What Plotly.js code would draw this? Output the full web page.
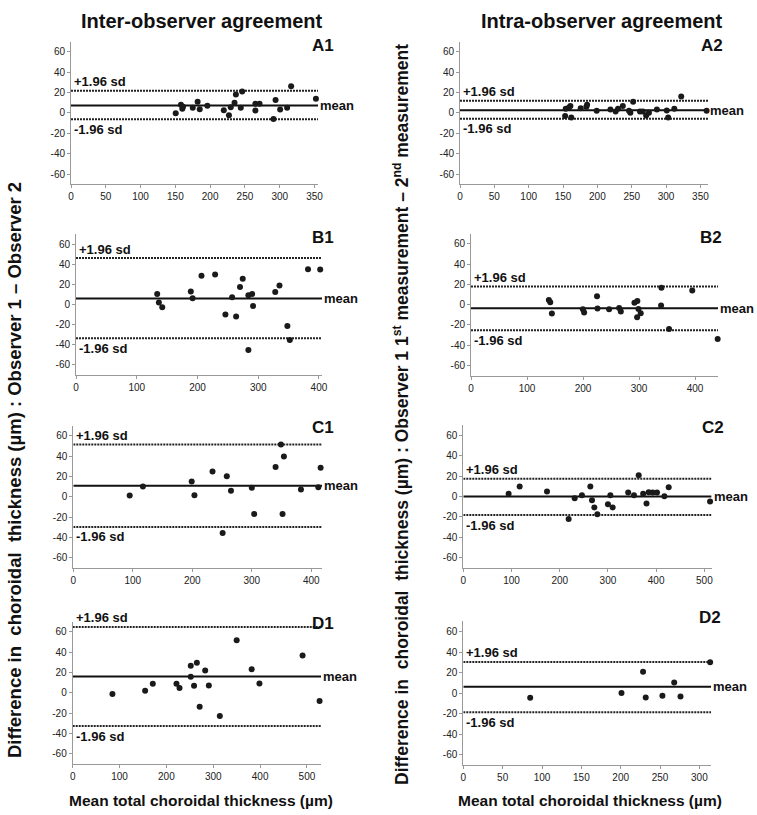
<!DOCTYPE html>
<html>
<head>
<meta charset="utf-8">
<script src="https://cdn.plot.ly/plotly-3.0.1.min.js"></script>
<style>html,body{margin:0;padding:0;background:#fff;}#chart{width:757px;height:815px;}</style>
</head>
<body>
<div id="chart"></div>
<script>
// ---- Data ----
const panelNames = ["A1", "A2", "B1", "B2", "C1", "C2", "D1", "D2"];

const A1x = [150.5, 158, 160, 161, 175, 182, 185, 196, 219.6, 227, 229.6, 235, 237, 246, 244, 265, 265, 271, 291, 294, 300.6, 310.6, 316.4, 352];
const A1y = [-0.3, 8, 4, 6, 5, 11, 3.6, 7, 2.6, -2.3, 5.6, 10, 18, 21, 5, 2.3, 9, 9, -6, 12.5, 3.3, 5, 26, 13.8];

const A2x = [153, 153.9, 158.7, 160.7, 162, 175.7, 184, 185, 199, 219, 226.5, 230, 237, 246, 248, 252, 262, 266, 271, 275, 286.6, 301, 303, 312, 322, 359];
const A2y = [-3, 3.9, 5.2, 6.6, -4.6, 4.6, 5.9, 7.9, 2, 3.3, 1.3, 3.9, 6.6, 2, 0, 11, 1.3, 1.3, -2.6, 0, 3.3, 2.3, -4.6, 3.9, 16, 2];

const B1x = [133.7, 136.4, 142, 189, 192, 206.6, 229, 246, 257, 263.6, 270, 274.5, 283.8, 283.8, 290, 291.5, 328, 335, 348, 352, 382, 402];
const B1y = [10.3, 1.7, -3, 12.7, 6, 28.3, 29.7, -10.3, 7, -12.3, 17.3, 25.3, 9, -45.7, 10.3, -1.7, 12.3, 18.7, -21.7, -35.7, 35, 34.7];

const B2x = [139, 141.5, 144.4, 199.7, 202, 225, 225.8, 246.6, 264.5, 267.5, 291.8, 297, 296.6, 299, 303, 339.4, 340, 353.6, 395, 440.4];
const B2y = [4.6, 2.3, -8.9, -4.6, -7.9, 8.3, -4, -4.6, -3.3, -6.9, 1.7, 3.6, -12.5, -4.3, -8.6, -1, 16.5, -24, 13.9, -34];

const C1x = [94.8, 117, 199, 203.6, 234, 251, 258, 265, 300, 304, 340, 349, 351.7, 354, 382.6, 411.8, 415.7];
const C1y = [1.3, 10.2, 15.1, 1.6, 25, -35.5, 20.4, 5.9, 8.9, -16.8, 29.3, 51.6, -16.8, 39.8, 7.2, 9.5, 28.6];

const C2x = [94, 116.9, 173.6, 218.5, 231, 246, 263.5, 266.9, 271.8, 278, 300, 305, 309.8, 342, 354, 363.8, 373, 380, 384.5, 392.8, 401.8, 417, 426, 511.8];
const C2y = [2.6, 9.8, 4.9, -22, -1.6, 1.3, 9.8, -3.6, -10.7, -17.3, -7.5, 1.3, -10.7, 3.9, 1.3, 20.8, 2.6, -6.8, 4.2, 3.9, 3.9, 0.3, 9.1, -4.9];

const D1x = [84.8, 154.6, 171, 221.5, 228, 252, 252, 259, 265, 271, 282.8, 290.6, 314, 350, 382, 398.6, 490.7, 527];
const D1y = [-1.3, 2, 8.8, 8.8, 4.6, 26.5, 15.7, 6.9, 29.4, -13.7, 21.9, 7.2, -22.9, 51.7, 23.2, 9.2, 36.6, -8.2];

const D2x = [85, 201, 228.4, 231.8, 253, 268, 276, 313.6];
const D2y = [-4.5, 0.3, 21, -4.2, -2.6, 10.4, -3.2, 30.2];

// Bland-Altman statistics per panel (order of panelNames)
const meanDiff = [7.2, 2.6, 5.7, -3.6, 10.9, 0, 16, 6.2];
const upperLoA = [21.6, 11.8, 46, 17.8, 51.6, 17.3, 64.7, 30.5];
const lowerLoA = [-6.2, -5.9, -34, -25.4, -29.6, -18.2, -32.7, -18.5];

// Axis extents and ticks
const xMax = [355, 361, 405, 441, 418, 515, 530, 315];
const xDtick = [50, 50, 100, 100, 100, 100, 100, 50];
const yTicks = [-60, -40, -20, 0, 20, 40, 60];

const columnTitles = ["Inter-observer agreement", "Intra-observer agreement"];
const xTitle = "Mean total choroidal thickness (µm)";
const yTitleLeft = "Difference in\u00a0 choroidal\u00a0 thickness (µm) : Observer 1 – Observer 2";
const yTitleRight = "Difference in\u00a0 choroidal\u00a0 thickness (µm) : Observer 1 1<sup>st</sup> measurement – 2<sup>nd</sup> measurement";

const xs = [A1x, A2x, B1x, B2x, C1x, C2x, D1x, D2x];
const ys = [A1y, A2y, B1y, B2y, C1y, C2y, D1y, D2y];

// ---- Layout geometry (pixels) ----
const W = 757, H = 815;
const boxes = [
  [71, 318, 41.5, 184.2],
  [460, 708, 41.5, 184.2],
  [76, 322, 234, 374.5],
  [471, 718, 233.6, 375.5],
  [73.3, 322, 425.8, 567.9],
  [463.3, 711.6, 425, 568],
  [72.7, 321, 621.5, 764],
  [463.3, 711.2, 621.4, 765]
];
const labelPos = [[323, 45], [712, 45], [323, 238], [711, 238], [323, 427], [713, 427], [323, 623], [710, 617]];

const FONT = "Liberation Sans, Arial, Helvetica, sans-serif";
const px = v => v / W;
const py = v => 1 - v / H;

const traces = [];
const layout = {
  width: W, height: H,
  margin: {l: 0, r: 0, t: 0, b: 0},
  paper_bgcolor: "#fff", plot_bgcolor: "#fff",
  showlegend: false,
  font: {family: FONT, color: "#111"},
  annotations: []
};

const dotted = "2px,1px";

for (let i = 0; i < 8; i++) {
  const n = i + 1;
  const xa = "x" + (n === 1 ? "" : n), ya = "y" + (n === 1 ? "" : n);
  const xk = "xaxis" + (n === 1 ? "" : n), yk = "yaxis" + (n === 1 ? "" : n);
  const b = boxes[i];
  const lineX = [0, xMax[i]];

  traces.push({x: lineX, y: [upperLoA[i], upperLoA[i]], xaxis: xa, yaxis: ya, mode: "lines",
    line: {color: "#222", width: 2, dash: dotted}, hoverinfo: "skip"});
  traces.push({x: lineX, y: [lowerLoA[i], lowerLoA[i]], xaxis: xa, yaxis: ya, mode: "lines",
    line: {color: "#222", width: 2, dash: dotted}, hoverinfo: "skip"});
  traces.push({x: lineX, y: [meanDiff[i], meanDiff[i]], xaxis: xa, yaxis: ya, mode: "lines",
    line: {color: "#111", width: 2}, hoverinfo: "skip"});
  traces.push({x: xs[i], y: ys[i], xaxis: xa, yaxis: ya, mode: "markers",
    marker: {color: "#1a1a1a", size: 6}, cliponaxis: false});

  const common = {showline: true, linecolor: "#999", linewidth: 1, ticks: "outside", ticklen: 3,
    tickcolor: "#999", tickwidth: 1, showgrid: false, zeroline: false,
    tickfont: {family: FONT, size: 10, color: "#222"}};
  layout[xk] = Object.assign({}, common, {domain: [px(b[0]), px(b[1])], range: [0, xMax[i]],
    anchor: ya, tickmode: "linear", tick0: 0, dtick: xDtick[i]});
  layout[yk] = Object.assign({}, common, {domain: [py(b[3]), py(b[2])], range: [-70, 70],
    anchor: xa, tickmode: "array", tickvals: yTicks, ticktext: yTicks.map(String)});

  // Panel label
  layout.annotations.push({text: "<b>" + panelNames[i] + "</b>", xref: "paper", yref: "paper",
    x: px(labelPos[i][0]), y: py(labelPos[i][1]), xanchor: "center", yanchor: "middle",
    showarrow: false, font: {family: FONT, size: 17, color: "#111"}});
  // LoA and mean labels
  layout.annotations.push({text: "<b>+1.96 sd</b>", xref: xa, yref: ya, x: 0, y: upperLoA[i],
    xanchor: "left", yanchor: "middle", xshift: 1, yshift: 9, showarrow: false,
    font: {family: FONT, size: 13, color: "#111"}});
  layout.annotations.push({text: "<b>-1.96 sd</b>", xref: xa, yref: ya, x: 0, y: lowerLoA[i],
    xanchor: "left", yanchor: "middle", xshift: 1, yshift: -10, showarrow: false,
    font: {family: FONT, size: 13, color: "#111"}});
  layout.annotations.push({text: "<b>mean</b>", xref: xa, yref: ya, x: xMax[i], y: meanDiff[i],
    xanchor: "left", yanchor: "middle", xshift: 0, showarrow: false,
    font: {family: FONT, size: 13, color: "#111"}});
}

// Column titles
layout.annotations.push({text: "<b>" + columnTitles[0] + "</b>", xref: "paper", yref: "paper",
  x: px(202), y: py(21), xanchor: "center", yanchor: "middle", showarrow: false,
  font: {family: FONT, size: 20, color: "#111"}});
layout.annotations.push({text: "<b>" + columnTitles[1] + "</b>", xref: "paper", yref: "paper",
  x: px(602), y: py(21), xanchor: "center", yanchor: "middle", showarrow: false,
  font: {family: FONT, size: 20, color: "#111"}});
// X titles
layout.annotations.push({text: "<b>" + xTitle + "</b>", xref: "paper", yref: "paper",
  x: px(201), y: py(800), xanchor: "center", yanchor: "middle", showarrow: false,
  font: {family: FONT, size: 15.5, color: "#111"}});
layout.annotations.push({text: "<b>" + xTitle + "</b>", xref: "paper", yref: "paper",
  x: px(590), y: py(800), xanchor: "center", yanchor: "middle", showarrow: false,
  font: {family: FONT, size: 15.5, color: "#111"}});
// Y titles
layout.annotations.push({text: "<b>" + yTitleLeft + "</b>", xref: "paper", yref: "paper",
  x: px(14), y: py(470), xanchor: "center", yanchor: "middle", textangle: -90, showarrow: false,
  font: {family: FONT, size: 18.5, color: "#111"}});
layout.annotations.push({text: "<b>" + yTitleRight + "</b>", xref: "paper", yref: "paper",
  x: px(401), y: py(415), xanchor: "center", yanchor: "middle", textangle: -90, showarrow: false,
  font: {family: FONT, size: 17.5, color: "#111"}});

Plotly.newPlot("chart", traces, layout, {staticPlot: true, displayModeBar: false});
</script>
</body>
</html>
